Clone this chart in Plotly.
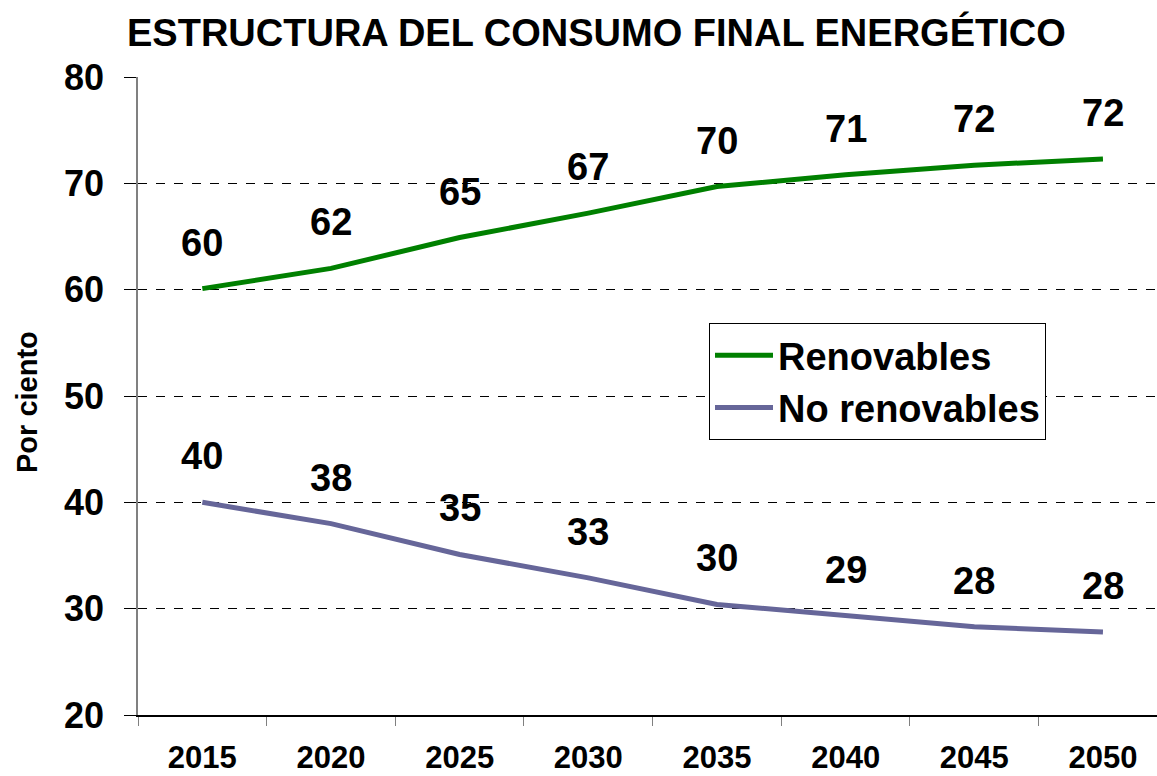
import plotly.graph_objects as go

years = ["2015", "2020", "2025", "2030", "2035", "2040", "2045", "2050"]
renovables = [60.1, 62.0, 64.9, 67.2, 69.7, 70.8, 71.7, 72.3]
no_renovables = [40.0, 38.0, 35.1, 32.9, 30.4, 29.3, 28.3, 27.8]
y_ticks = [20, 30, 40, 50, 60, 70, 80]

FONT = "Liberation Sans, Arial, sans-serif"
GREEN = "#008000"
PURPLE = "#666699"

L, R, T, B = 138, 0, 77, 61
W, H = 1157, 776
PW, PH = W - L - R, H - T - B

fig = go.Figure()
fig.add_trace(go.Scatter(x=years, y=renovables, mode="lines", name="Renovables",
                         line=dict(color=GREEN, width=5)))
fig.add_trace(go.Scatter(x=years, y=no_renovables, mode="lines", name="No renovables",
                         line=dict(color=PURPLE, width=5)))

annotations = []
for series in (renovables, no_renovables):
    for i, v in enumerate(series):
        annotations.append(dict(x=i, y=v, xref="x", yref="y", text=f"{v:.0f}",
                                showarrow=False, yshift=46, xanchor="center", yanchor="middle",
                                font=dict(family=FONT, size=38, color="black", weight="bold")))
annotations.append(dict(x=(27 - L) / PW, y=(H - B - 402) / PH, xref="paper", yref="paper",
                        text="Por ciento", textangle=-90, showarrow=False,
                        xanchor="center", yanchor="middle",
                        font=dict(family=FONT, size=29, color="black", weight="bold")))

fig.update_layout(
    width=W, height=H,
    margin=dict(l=L, r=R, t=T, b=B, autoexpand=False),
    paper_bgcolor="white", plot_bgcolor="white",
    title=dict(text="ESTRUCTURA DEL CONSUMO FINAL ENERGÉTICO",
               x=127 / W, xanchor="left", xref="container",
               y=1 - 33 / H, yanchor="middle", yref="container",
               font=dict(family=FONT, size=38, color="black", weight="bold")),
    showlegend=True,
    legend=dict(x=(709 - L) / PW, y=(H - B - 323) / PH, xanchor="left", yanchor="top",
                bordercolor="black", borderwidth=1, bgcolor="white",
                font=dict(family=FONT, size=38, color="black", weight="bold"),
                itemwidth=58, tracegroupgap=0, entrywidth=345),
    annotations=annotations,
)

fig.update_xaxes(type="category", range=[-0.5, 7.42], tickson="boundaries",
                 ticks="outside", ticklen=9, tickcolor="#808080", tickwidth=1,
                 showline=True, linecolor="black", linewidth=1.5,
                 showgrid=False, zeroline=False, automargin=False,
                 tickfont=dict(family=FONT, size=31, color="black", weight="bold"),
                 ticklabelstandoff=14)
fig.update_yaxes(range=[20, 80], tickvals=y_ticks,
                 ticks="outside", ticklen=12, tickcolor="black", tickwidth=1,
                 showline=True, linecolor="#808080", linewidth=1.5,
                 showgrid=True, gridcolor="black", gridwidth=1, griddash="dash",
                 zeroline=False, automargin=False,
                 tickfont=dict(family=FONT, size=36, color="black", weight="bold"),
                 ticklabelstandoff=13)

fig.write_html("out.html", config={"displayModeBar": False},
               post_script="document.body.style.margin='0px';document.body.style.overflow='hidden';")
